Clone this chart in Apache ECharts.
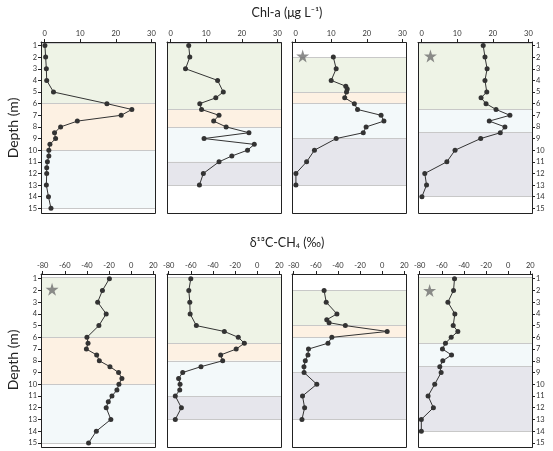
<!DOCTYPE html>
<html>
<head>
<meta charset="utf-8">
<script src="https://cdn.jsdelivr.net/npm/echarts@6/dist/echarts.min.js"></script>
<style>
  html, body { margin: 0; padding: 0; background: #fff; }
  #chart { width: 553px; height: 451px; }
</style>
</head>
<body>
<div id="chart"></div>
<script>
// tick labels
var chlTicks = [0, 10, 20, 30];
var ch4Ticks = [-80, -60, -40, -20, 0, 20];
var depthTicks = [1, 2, 3, 4, 5, 6, 7, 8, 9, 10, 11, 12, 13, 14, 15];

// Chl-a (ug/L), one pair of arrays per lake
var chl1Depth = [1, 2, 3, 4, 5, 6, 6.5, 7, 7.5, 8, 8.5, 9, 9.5, 10, 10.5, 11, 11.5, 12, 13, 14, 15];
var chl1 = [0.1, 0.3, 0.5, 0.6, 2.5, 17.5, 24.5, 21.5, 9.2, 4.5, 2.8, 3.1, 1.5, 1.2, 1.2, 0.8, 0.6, 0.6, 0.5, 1.1, 1.8];
var chl2Depth = [1, 2, 3, 4, 5, 5.5, 6, 6.5, 7, 7.5, 8, 8.5, 9, 9.5, 10, 10.5, 11, 12, 13];
var chl2 = [5.1, 5.4, 4.2, 13.2, 14.8, 12.7, 8.2, 8.7, 13.6, 12.1, 15.6, 22.0, 9.4, 23.5, 21.6, 17.2, 13.6, 9.2, 8.1];
var chl3Depth = [2, 3, 4, 4.5, 4.75, 5, 5.5, 6, 6.5, 7, 7.5, 8, 8.5, 9, 10, 11, 12, 13];
var chl3 = [10.6, 11.4, 10.0, 14.1, 14.5, 14.3, 13.8, 16.5, 17.4, 24.0, 24.8, 19.8, 19.0, 11.4, 5.3, 3.1, 0.1, 0.1];
var chl4Depth = [1, 2, 3, 4, 5, 5.5, 6, 6.5, 7, 7.5, 8, 8.5, 9, 10, 11, 12, 13, 14];
var chl4 = [17.3, 17.8, 18.4, 17.8, 18.3, 16.7, 18.1, 20.9, 24.8, 19.0, 23.4, 22.1, 16.6, 9.4, 7.1, 0.9, 1.4, 0.1];

// d13C-CH4 (permil)
var ch41Depth = [1, 2, 3, 4, 5, 6, 6.5, 7, 7.5, 8, 8.5, 9, 9.5, 10, 10.5, 11, 11.5, 12, 13, 14, 15];
var ch41 = [-19.7, -26, -30.3, -22.6, -29.2, -40, -39, -40.5, -31.2, -28.8, -19.2, -11.4, -8.4, -11.1, -12.9, -17.4, -20.7, -22.6, -18.4, -31.5, -38.5];
var ch42Depth = [1, 2, 3, 4, 5, 5.5, 6, 6.5, 7, 7.5, 8, 8.5, 9, 9.5, 10, 10.5, 11, 12, 13];
var ch42 = [-60, -61.8, -60.9, -60.6, -55, -29.7, -17.1, -11.6, -19, -33, -31.2, -50.8, -67.3, -71, -69.7, -70, -74, -68.5, -74];
var ch43Depth = [2, 3, 4, 4.5, 4.75, 5, 5.5, 6, 6.5, 7, 7.5, 8, 8.5, 9, 10, 11, 12, 13];
var ch43 = [-52.5, -50.6, -40.9, -50.1, -48, -33.3, 4.5, -45.5, -49, -66.6, -67.1, -69.5, -70.7, -70.6, -59.1, -72, -70.1, -72.5];
var ch44Depth = [1, 2, 3, 4, 5, 5.5, 6, 6.5, 7, 7.5, 8, 8.5, 9, 10, 11, 12, 13, 14];
var ch44 = [-48.5, -49.4, -54.5, -48.2, -49.7, -45.5, -51.5, -56.7, -59.4, -51.2, -59.1, -61.8, -60.6, -66.4, -72.4, -67.6, -78.5, -78.5];

// layers per lake: [from depth, to depth, layer]
var zones1 = [[0.85, 6, 'upper'], [6, 10, 'middle'], [10, 15, 'lower']];
var zones2 = [[0.85, 6.5, 'upper'], [6.5, 8, 'middle'], [8, 11, 'lower'], [11, 13, 'bottom']];
var zones3 = [[2, 5, 'upper'], [5, 6, 'middle'], [6, 9, 'lower'], [9, 13, 'bottom']];
var zones4 = [[0.85, 6.5, 'upper'], [6.5, 8.5, 'lower'], [8.5, 14, 'bottom']];

// star markers [value, depth]
var chlStars = [null, null, [2, 1.9], [2.5, 1.9]];
var ch4Stars = [[-71.5, 1.9], null, null, [-71, 2]];

var layerColor = {
  upper: '#eef3e6',
  middle: '#fdf1e3',
  lower: '#f3f9fa',
  bottom: '#e6e6ec'
};

var FONT = 'Lato, "DejaVu Sans", sans-serif';
var lefts = [41, 167, 292, 418];
var W = 114;
var rows = [
  { top: 42, height: 171, xmin: -1, xmax: 31, ymin: 0.7, ymax: 15.4, ticks: chlTicks,
    depths: [chl1Depth, chl2Depth, chl3Depth, chl4Depth], vals: [chl1, chl2, chl3, chl4], stars: chlStars },
  { top: 274, height: 173, xmin: -81.5, xmax: 21.5, ymin: 0.6, ymax: 15.35, ticks: ch4Ticks,
    depths: [ch41Depth, ch42Depth, ch43Depth, ch44Depth], vals: [ch41, ch42, ch43, ch44], stars: ch4Stars }
];
var zones = [zones1, zones2, zones3, zones4];

var star = 'path://M50,0 L61,35 L98,35 L68,57 L79,91 L50,70 L21,91 L32,57 L2,35 L39,35 Z';

var grid = [], xAxis = [], yAxis = [], series = [], graphic = [];
var idx = 0;
rows.forEach(function (row) {
  for (var c = 0; c < 4; c++) {
    grid.push({ left: lefts[c], top: row.top, width: W, height: row.height });
    xAxis.push({
      gridIndex: idx, type: 'value', position: 'top', min: row.xmin, max: row.xmax,
      splitLine: { show: false },
      axisLine: { show: true, onZero: false, lineStyle: { color: '#222', width: 1 } },
      axisTick: { show: true, length: 3, customValues: row.ticks, lineStyle: { color: '#222' } },
      axisLabel: { customValues: row.ticks, fontSize: 7.5, color: '#333', margin: 4, fontFamily: FONT }
    });
    var showY = (c === 0 || c === 3);
    yAxis.push({
      gridIndex: idx, type: 'value', inverse: true, min: row.ymin, max: row.ymax,
      position: c === 3 ? 'right' : 'left',
      splitLine: { show: false },
      axisLine: { show: true, onZero: false, lineStyle: { color: '#222', width: 1 } },
      axisTick: { show: showY, length: 3, customValues: depthTicks, lineStyle: { color: '#222' } },
      axisLabel: { show: showY, customValues: depthTicks, fontSize: 7.5, color: '#333', margin: 4, fontFamily: FONT }
    });

    var z = zones[c];
    var bounds = [];
    z.forEach(function (r) {
      if (bounds.indexOf(r[0]) < 0) bounds.push(r[0]);
      if (bounds.indexOf(r[1]) < 0) bounds.push(r[1]);
    });
    // background layers
    series.push({
      type: 'line', xAxisIndex: idx, yAxisIndex: idx, data: [], z: 1, silent: true,
      markArea: {
        silent: true,
        data: z.map(function (r) {
          return [{ yAxis: r[0], itemStyle: { color: layerColor[r[2]] } }, { yAxis: r[1] }];
        })
      },
      markLine: {
        silent: true, symbol: 'none', label: { show: false },
        lineStyle: { color: '#c8c8c8', type: 'solid', width: 1.2 },
        data: bounds.map(function (b) { return { yAxis: b }; })
      }
    });
    // profile
    var d = row.depths[c], v = row.vals[c];
    series.push({
      type: 'line', xAxisIndex: idx, yAxisIndex: idx, z: 5,
      data: d.map(function (dep, i) { return [v[i], dep]; }),
      symbol: 'circle', symbolSize: 5, showSymbol: true,
      itemStyle: { color: '#333' },
      lineStyle: { color: '#333', width: 1 },
      animation: false
    });
    if (row.stars[c]) {
      series.push({
        type: 'scatter', xAxisIndex: idx, yAxisIndex: idx, z: 6,
        data: [row.stars[c]], symbol: star, symbolSize: 13,
        itemStyle: { color: '#6f6f6f' }
      });
    }
    graphic.push({
      type: 'rect', z: 100, silent: true,
      shape: { x: lefts[c] + 0.5, y: row.top + 0.5, width: W, height: row.height },
      style: { fill: 'none', stroke: '#222', lineWidth: 1 }
    });
    idx++;
  }
});

graphic.push(
  { type: 'text', x: 287, y: 6, style: { text: 'Chl-a (μg L⁻¹)', font: '12.5px ' + FONT, fill: '#222', textAlign: 'center' } },
  { type: 'text', x: 287, y: 236, style: { text: 'δ¹³C-CH₄ (‰)', font: '12.5px ' + FONT, fill: '#222', textAlign: 'center' } },
  { type: 'text', x: 13, y: 128, rotation: Math.PI / 2, style: { text: 'Depth (m)', font: '14px ' + FONT, fill: '#222', textAlign: 'center', textVerticalAlign: 'middle' } },
  { type: 'text', x: 13, y: 360, rotation: Math.PI / 2, style: { text: 'Depth (m)', font: '14px ' + FONT, fill: '#222', textAlign: 'center', textVerticalAlign: 'middle' } }
);

var chart = echarts.init(document.getElementById('chart'));
chart.setOption({
  animation: false,
  backgroundColor: '#fff',
  grid: grid,
  xAxis: xAxis,
  yAxis: yAxis,
  series: series,
  graphic: graphic
});
</script>
</body>
</html>
